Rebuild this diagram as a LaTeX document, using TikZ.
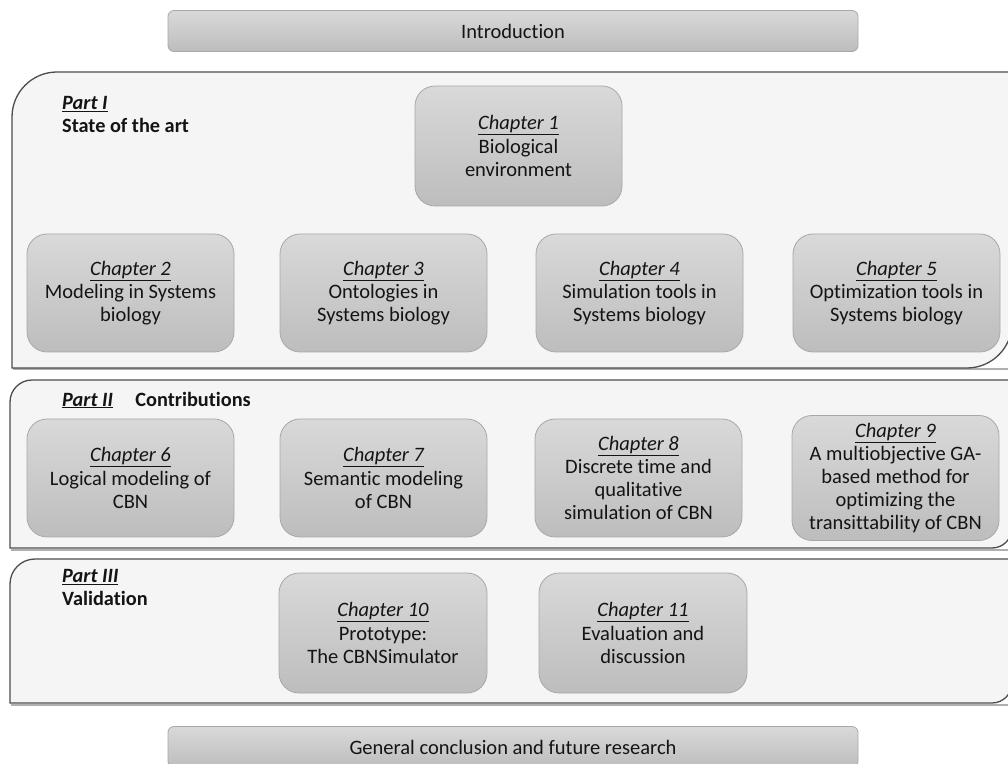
\documentclass[tikz,border=0pt]{standalone}
\usepackage{fontspec}
\setmainfont{Carlito}[Ligatures=NoCommon]

\definecolor{panelfill}{HTML}{F5F5F5}
\definecolor{panelline}{HTML}{4D4D4D}
\definecolor{panelshadow}{HTML}{B0B0B0}
\definecolor{boxtop}{HTML}{D9D9D9}
\definecolor{boxbot}{HTML}{BDBDBD}
\definecolor{boxline}{HTML}{A8A8A8}
\definecolor{inktext}{HTML}{141414}

\tikzset{
  chapbox/.style={rounded corners=20pt, top color=boxtop, bottom color=boxbot,
    draw=boxline, line width=0.8pt, minimum width=207pt, minimum height=118pt,
    align=center, text=inktext, font=\fontsize{20.5}{23.2}\selectfont, inner sep=0pt},
  barbox/.style={rounded corners=6pt, top color=boxtop, bottom color=boxbot,
    draw=boxline, line width=0.8pt, minimum width=690pt, minimum height=41pt,
    text=inktext, font=\fontsize{20.5}{23}\selectfont},
  panel/.style={fill=panelfill, draw=panelline, line width=1.3pt},
  panelshade/.style={draw=panelshadow, line width=2pt},
  partlabel/.style={font=\bfseries\fontsize{20.3}{23}\selectfont, align=left,
    text=inktext, inner sep=0pt},
}
\newcommand{\chaptag}[1]{\textit{\underline{#1}}}

\begin{document}
\begin{tikzpicture}[x=1pt,y=1pt]
  \useasboundingbox (0,0) rectangle (1008,763);
  \clip (0,0) rectangle (1008,763);

  % opening and closing bars
  \node[barbox] (intro) at (513,732) {Introduction};
  \node[barbox] (concl) at (513,16) {General conclusion and future research};

  % Part I panel
  \draw[panelshade] (13,393.5) -- (1012,393.5);
  \draw[panel] (12,395) -- (12,646) arc[start angle=180,end angle=90,radius=45]
    -- (1012,691) -- (1012,440) arc[start angle=0,end angle=-90,radius=45] -- cycle;
  \node[partlabel, anchor=north west] (p1) at (62,667)
    {\textit{\underline{Part I}}\\State of the art};

  \node[chapbox, minimum height=120pt] (c1) at (518.5,617) {\chaptag{Chapter 1}\\Biological\\environment};
  \node[chapbox] (c2) at (130.5,470) {\chaptag{Chapter 2}\\Modeling in Systems\\biology};
  \node[chapbox] (c3) at (383.5,470) {\chaptag{Chapter 3}\\Ontologies in\\Systems biology};
  \node[chapbox] (c4) at (639.5,470) {\chaptag{Chapter 4}\\Simulation tools in\\Systems biology};
  \node[chapbox] (c5) at (896.5,470) {\chaptag{Chapter 5}\\Optimization tools in\\Systems biology};

  % Part II panel
  \draw[panelshade] (11,213.5) -- (1012,213.5);
  \draw[panel] (10,215) -- (10,361) arc[start angle=180,end angle=90,radius=22]
    -- (1012,383) -- (1012,235) arc[start angle=0,end angle=-90,radius=20] -- cycle;
  \node[partlabel, anchor=west] (p2) at (62,363)
    {\textit{\underline{Part II}}\hspace{1.1em}Contributions};

  \node[chapbox] (c6) at (130.5,285) {\chaptag{Chapter 6}\\Logical modeling of\\CBN};
  \node[chapbox] (c7) at (383.5,285) {\chaptag{Chapter 7}\\Semantic modeling\\of CBN};
  \node[chapbox] (c8) at (638.5,285) {\chaptag{Chapter 8}\\Discrete time and\\qualitative\\simulation of CBN};
  \node[chapbox, minimum height=125pt] (c9) at (895.5,285)
    {\chaptag{Chapter 9}\\A multiobjective GA-\\based method for\\optimizing the\\transittability of CBN};

  % Part III panel
  \draw[panelshade] (11,58.5) -- (1012,58.5);
  \draw[panel] (10,60) -- (10,179) arc[start angle=180,end angle=90,radius=25]
    -- (1012,204) -- (1012,80) arc[start angle=0,end angle=-90,radius=20] -- cycle;
  \node[partlabel, anchor=north west] (p3) at (62,194)
    {\textit{\underline{Part III}}\\Validation};

  \node[chapbox, minimum width=208pt, minimum height=120pt] (c10) at (383,130)
    {\chaptag{Chapter 10}\\Prototype:\\The CBNSimulator};
  \node[chapbox, minimum width=208pt, minimum height=120pt] (c11) at (643,130)
    {\chaptag{Chapter 11}\\Evaluation and\\discussion};
\end{tikzpicture}
\end{document}
